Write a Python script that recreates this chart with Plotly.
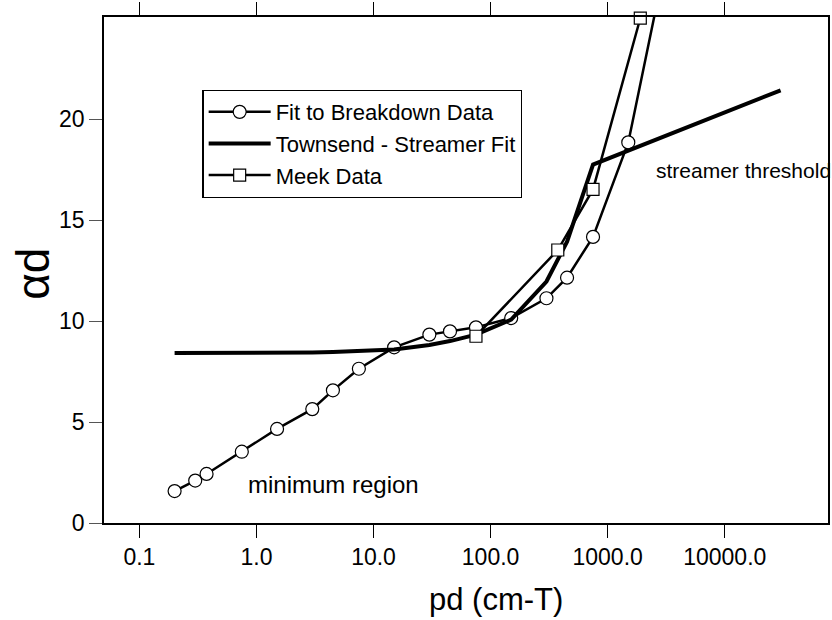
import plotly.graph_objects as go

# ---- data ----
fit_x = [0.2, 0.3, 0.375, 0.75, 1.5, 3, 4.5, 7.5, 15, 30, 45, 75, 150, 300, 450, 750, 1500, 3000]
fit_y = [1.58, 2.10, 2.43, 3.53, 4.66, 5.64, 6.57, 7.64, 8.70, 9.33, 9.49, 9.69, 10.15, 11.13, 12.15, 14.17, 18.85, 27.3]

ts_x = [0.2, 0.3, 0.375, 0.75, 1.5, 3, 4.5, 7.5, 15, 30, 45, 75, 150, 300, 450, 750, 30000]
ts_y = [8.42, 8.42, 8.42, 8.43, 8.44, 8.45, 8.47, 8.50, 8.59, 8.82, 9.01, 9.33, 10.07, 11.96, 13.93, 17.75, 21.43]

meek_x = [75, 375, 750, 1900]
meek_y = [9.25, 13.52, 16.52, 25.0]

x_tickvals = [0.1, 1, 10, 100, 1000, 10000]
x_ticktext = ["0.1", "1.0", "10.0", "100.0", "1000.0", "10000.0"]
y_tickvals = [0, 5, 10, 15, 20]

FONT = "Liberation Sans, Arial, sans-serif"

fig = go.Figure()
fig.add_trace(go.Scatter(
    x=fit_x, y=fit_y, mode="lines+markers", name="Fit to Breakdown Data",
    line=dict(color="black", width=2.5),
    marker=dict(symbol="circle", size=13, color="white", line=dict(color="black", width=1.2)),
))
fig.add_trace(go.Scatter(
    x=ts_x, y=ts_y, mode="lines", name="Townsend - Streamer Fit",
    line=dict(color="black", width=4),
))
fig.add_trace(go.Scatter(
    x=meek_x, y=meek_y, mode="lines+markers", name="Meek Data",
    line=dict(color="black", width=2.5),
    marker=dict(symbol="square", size=12, color="white", line=dict(color="black", width=1.2)),
    cliponaxis=False,
))

fig.update_xaxes(
    type="log", range=[-1.302, 4.882],
    tickvals=x_tickvals, ticktext=x_ticktext,
    ticks="outside", ticklen=13, tickwidth=1, tickcolor="black",
    showline=True, linecolor="black", linewidth=1.5, mirror="ticks",
    showgrid=False, zeroline=False,
    tickfont=dict(family=FONT, size=23, color="black"),
)
fig.update_yaxes(
    range=[0, 25.06],
    tickvals=y_tickvals,
    ticks="outside", ticklen=13, tickwidth=1, tickcolor="#555",
    showline=True, linecolor="black", linewidth=1.5, mirror=True,
    showgrid=False, zeroline=False,
    tickfont=dict(family=FONT, size=23, color="black"),
)

fig.add_annotation(text="minimum region", x=-0.088, y=1.9, xref="x", yref="y",
                   xanchor="left", yanchor="middle", showarrow=False,
                   font=dict(family=FONT, size=24, color="black"))
fig.add_annotation(text="streamer threshold", x=3.395, y=17.45, xref="x", yref="y",
                   xanchor="left", yanchor="middle", showarrow=False,
                   font=dict(family=FONT, size=21, color="black"))
fig.add_annotation(text="pd (cm-T)", x=0.542, y=-0.151, xref="paper", yref="paper",
                   xanchor="center", yanchor="middle", showarrow=False,
                   font=dict(family=FONT, size=31, color="black"))
fig.add_annotation(text="αd", x=-0.099, y=0.493, xref="paper", yref="paper",
                   xanchor="center", yanchor="middle", showarrow=False, textangle=-90,
                   font=dict(family=FONT, size=46, color="black"))

fig.update_layout(
    width=832, height=620,
    margin=dict(l=104, r=2, t=14, b=97),
    plot_bgcolor="white", paper_bgcolor="white",
    showlegend=True,
    legend=dict(
        x=0.136, y=0.856, xanchor="left", yanchor="top",
        bordercolor="black", borderwidth=1.2, bgcolor="white",
        font=dict(family=FONT, size=22, color="black"),
        itemwidth=62, tracegroupgap=0,
    ),
)

fig.write_html("out.html")
